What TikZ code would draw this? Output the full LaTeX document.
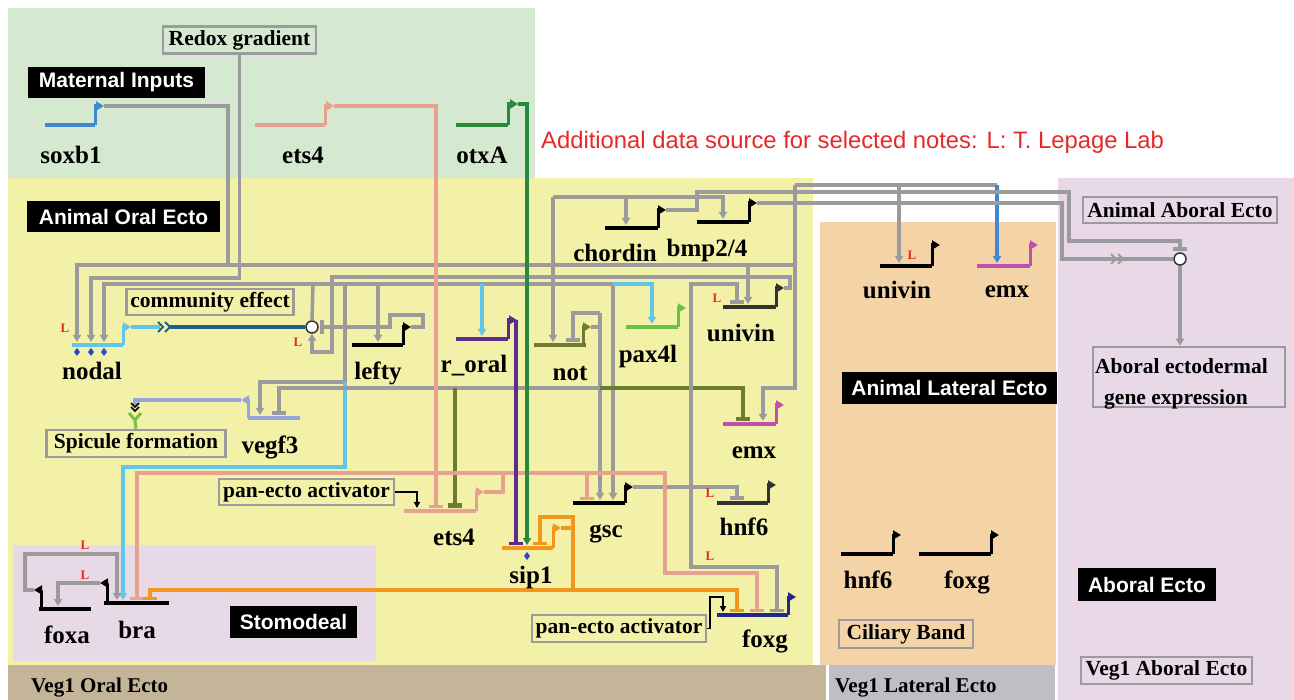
\documentclass[tikz,border=0pt]{standalone}
\usepackage{fontspec}
\setmainfont{Liberation Serif}
\setsansfont{Liberation Sans}
\usetikzlibrary{arrows.meta}
\definecolor{bgGreen}{RGB}{213,232,208}
\definecolor{bgYellow}{RGB}{243,240,168}
\definecolor{bgPink}{RGB}{232,217,230}
\definecolor{bgBrown}{RGB}{197,181,152}
\definecolor{bgOrange}{RGB}{244,211,167}
\definecolor{bgGrey}{RGB}{190,190,196}
\definecolor{bgLilac}{RGB}{233,217,232}
\definecolor{gry}{RGB}{155,155,158}
\definecolor{nodalC}{RGB}{96,198,234}
\definecolor{soxC}{RGB}{64,136,212}
\definecolor{etsC}{RGB}{232,160,145}
\definecolor{otxC}{RGB}{40,136,60}
\definecolor{rorC}{RGB}{92,44,140}
\definecolor{notC}{RGB}{110,124,50}
\definecolor{paxC}{RGB}{108,192,72}
\definecolor{emxC}{RGB}{190,80,176}
\definecolor{vegC}{RGB}{150,164,216}
\definecolor{sipC}{RGB}{242,150,30}
\definecolor{foxgC}{RGB}{32,40,138}
\definecolor{tealC}{RGB}{30,96,136}
\definecolor{redL}{RGB}{232,40,40}
\definecolor{darkG}{RGB}{50,50,50}
\definecolor{spicG}{RGB}{120,192,70}
\definecolor{diamC}{RGB}{50,70,200}
\tikzset{
  gl/.style={line width=4pt},
  pr/.style={line width=3pt,-{Triangle[length=8pt,width=9pt]}},
  cn/.style={line width=3.5pt,draw=gry},
  cl/.style={line width=3.2pt},
  ac/.style={-{Triangle[length=7pt,width=8pt]}},
  rp/.style={-{Bar[width=14pt]}},
  glab/.style={font=\bfseries\fontsize{25}{28}\selectfont,inner sep=0pt,anchor=base},
  blab/.style={draw=gry,line width=2.5pt,font=\bfseries\fontsize{21.5}{24}\selectfont,inner sep=0pt},
  klab/.style={fill=black,text=white,font=\sffamily\bfseries\fontsize{21}{24}\selectfont,inner sep=0pt},
  lmark/.style={text=redL,font=\bfseries\fontsize{13}{14}\selectfont,inner sep=0pt},
  pan/.style={line width=1.6pt,-{Triangle[length=6pt,width=6pt]}}
}
\newcommand{\chevR}[3]{\draw[#3,line width=2pt] (#1-5,#2-5)--(#1,#2)--(#1-5,#2+5) (#1+2,#2-5)--(#1+7,#2)--(#1+2,#2+5);}
\newcommand{\diam}[2]{\fill[diamC] (#1,#2-4)--(#1+3,#2)--(#1,#2+4)--(#1-3,#2)--cycle;}
\begin{document}
\begin{tikzpicture}[x=1pt,y=-1pt]
\useasboundingbox (0,0) rectangle (1294,700);
\fill[white] (0,0) rectangle (1294,700);
% regions
\fill[bgGreen] (8,8) rectangle (535,178);
\fill[bgYellow] (8,178) rectangle (813,665);
\fill[bgPink] (13,545) rectangle (376,661);
\fill[bgBrown] (8,665) rectangle (826,700);
\fill[bgOrange] (820,222) rectangle (1056,665);
\fill[bgGrey] (829,665) rectangle (1055,700);
\fill[bgLilac] (1058,178) rectangle (1294,700);

% labels (boxes)
\node[klab,minimum width=177pt,minimum height=31pt] (mat) at (116.5,82.5) {Maternal Inputs};
\node[klab,minimum width=193pt,minimum height=31pt] (aoe) at (123.5,216.5) {Animal Oral Ecto};
\node[klab,minimum width=127pt,minimum height=32pt] (sto) at (293.5,622) {Stomodeal};
\node[klab,minimum width=215pt,minimum height=32pt] (ale) at (949.5,388) {Animal Lateral Ecto};
\node[klab,minimum width=138pt,minimum height=33pt] (abe) at (1147,584.5) {Aboral Ecto};

\node[blab,minimum width=153pt,minimum height=27pt] (redox) at (239.5,40) {Redox gradient};
\node[blab,minimum width=167pt,minimum height=26pt] (comm) at (210,302) {community effect};
\node[blab,minimum width=179pt,minimum height=27pt] (spic) at (136,443.5) {Spicule formation};
\node[blab,minimum width=175pt,minimum height=26pt] (pan1) at (306.5,492) {pan-ecto activator};
\node[blab,minimum width=174pt,minimum height=27pt] (pan2) at (619,628.5) {pan-ecto activator};
\node[blab,minimum width=194pt,minimum height=26pt] (aab) at (1180,210) {Animal Aboral Ecto};
\node[blab,minimum width=192pt,minimum height=60pt] (aex) at (1189,377) {};
\node[blab,minimum width=134pt,minimum height=28pt] (cil) at (906,634) {Ciliary Band};
\node[blab,minimum width=171pt,minimum height=27pt] (v1a) at (1166.5,670.5) {Veg1 Aboral Ecto};
\node[anchor=base west,font=\bfseries\fontsize{21.5}{24}\selectfont,inner sep=0pt] (aex1) at (1095,374) {Aboral ectodermal};
\node[anchor=base west,font=\bfseries\fontsize{21.5}{24}\selectfont,inner sep=0pt] (aex2) at (1104,405) {gene expression};
\node[anchor=base west,font=\bfseries\fontsize{21}{24}\selectfont,inner sep=0pt] (v1o) at (31,692) {Veg1 Oral Ecto};
\node[anchor=base west,font=\bfseries\fontsize{21}{24}\selectfont,inner sep=0pt] (v1l) at (835,692) {Veg1 Lateral Ecto};
\node[anchor=west,text=redL,font=\sffamily\fontsize{23.8}{26}\selectfont,inner sep=0pt] (note) at (541,142) {Additional data source for selected notes: L: T. Lepage Lab};

% junction circles
\node[circle,draw=darkG,fill=white,line width=1.5pt,minimum size=12pt,inner sep=0pt] (ce) at (312,327) {};
\node[circle,draw=darkG,fill=white,line width=1.5pt,minimum size=12pt,inner sep=0pt] (abc) at (1180,259) {};

% ---------- connectors ----------
% soxb1 output
\draw[cn,ac] (104,106) -- (228,106) -- (228,265) -- (77,265) -- (77,342);
\draw[cn] (228,265) -- (795,265);
\draw[cn,ac] (795,185) -- (795,388) -- (763,388) -- (763,421);
\draw[cn] (795,185) -- (997,185);
\draw[cn,ac] (899,185) -- (899,263);
\draw[cn,draw=soxC,ac] (997,185) -- (997,263);
\draw[cn,ac] (748,265) -- (748,304);
% redox
\draw[cn,ac] (redox.south) |- (91,278) -- (91,342);
% nodal signal distribution
\draw[cn,ac] (613,284) -- (104,284) -- (104,342);
\draw[cn,ac] (613,284) -- (613,500);
\draw[cn] (313,284) -- (ce.north);
\draw[cn,ac] (378,284) -- (378,342);
\draw[cn,ac] (345,284) -- (345,382) -- (260,382) -- (260,415);
\draw[cn,draw=nodalC,ac] (345,382) -- (345,467) -- (123,467) -- (123,600);
\draw[cn,draw=nodalC,ac] (482,284) -- (482,336);
\draw[cn,draw=nodalC,ac] (613,284) -- (652,284) -- (652,324);
\draw[cn,ac] (553,197) -- (553,342);
\draw[cn,ac] (553,197) -- (723,197) -- (723,219);
\draw[cn,ac] (626,197) -- (626,225);
% univin output to circle
\draw[cn,ac] (784,288) -- (790,288) -- (790,277) -- (332,277) -- (332,352) -- (312,352) -- (ce.south);
% lefty output
\draw[cn,rp] (411,327) -- (423,327) -- (423,315) -- (390,315) -- (390,327) -- (320,327);
% nodal -> community effect
\draw[draw=nodalC,line width=3.5pt] (131,327) -- (160,327);
\chevR{163}{327}{tealC}
\draw[draw=tealC,line width=3.5pt] (170,327) -- (ce.west);
% not output
\draw[cn] (591,327) -- (600,327);
\draw[cn,ac] (600,313) -- (600,500);
\draw[cn,rp] (600,313) -- (573,313) -- (573,342);
\draw[cn,rp] (600,388) -- (279,388) -- (279,415);
\draw[cn,draw=notC,rp] (600,388) -- (743,388) -- (743,421);
\draw[cn,draw=notC,line width=4.5pt,rp] (455,388) -- (455,508);
% gsc output
\draw[cn,rp] (633,487) -- (737,487) -- (737,500);
\draw[cn,rp] (691,487) -- (691,567) -- (777,567) -- (777,612);
\draw[cn,rp] (691,487) -- (691,284) -- (737,284) -- (737,304);
% chordin output
\draw[cn,rp] (666,210) -- (697,210) -- (697,192) -- (1069,192) -- (1069,241) -- (1180,241) -- (1180,251);
% bmp2/4 output
\draw[cn] (757,203) -- (1062,203) -- (1062,259) -- (abc.west);
\chevR{1116}{259}{gry}
\draw[cn,ac] (abc.south) -- (abc.south |- aex.north);
% ets4 (oral) output
\draw[cl,draw=etsC] (484,492) -- (503,492) -- (503,473);
\draw[cl,draw=etsC,rp] (503,473) -- (137,473) -- (137,600);
\draw[cl,draw=etsC,rp] (503,473) -- (665,473) -- (665,573) -- (757,573) -- (757,612);
\draw[cl,draw=etsC,rp] (587,473) -- (587,500);
% maternal ets4
\draw[cl,draw=etsC,rp] (334,106) -- (436,106) -- (436,508);
% otxA
\draw[cl,draw=otxC,ac] (518,104) -- (527,104) -- (527,545);
% r_oral
\draw[cl,draw=rorC,rp] (516,320) -- (516,545);
% sip1
\draw[cl,draw=sipC] (561,528) -- (573,528);
\draw[cl,draw=sipC,rp] (573,590) -- (573,517) -- (540,517) -- (540,545);
\draw[cl,draw=sipC,rp] (573,590) -- (150,590) -- (150,600);
\draw[cl,draw=sipC,rp] (573,590) -- (737,590) -- (737,612);
% pan-ecto activators
\draw[pan] (pan1.east) -- (417,492) -- (417,508);
\draw[pan] (pan2.east) -- (710,628.5) -- (710,597) -- (723,597) -- (723,612);
% foxa / bra loop
\draw[cn,ac] (100,583) -- (58,583) -- (58,606);
\draw[cn,ac] (34,590) -- (25,590) -- (25,554) -- (117,554) -- (117,600);
% vegf3 -> spicule
\draw[cl,draw=vegC] (241,400) -- (135,400) -- (135,405);
\draw[black,line width=1.6pt] (131,403)--(135,407)--(139,403) (131,407)--(135,411)--(139,407);
\draw[spicG,line width=3pt] (129,413)--(135,420)--(141,413) (135,420)--(spic.north);

% ---------- genes ----------
\draw[gl,soxC] (45,125) -- (95,125);  \draw[pr,soxC] (95,125) -- (95,106) -- (104,106);
\draw[gl,etsC] (255,125) -- (325,125); \draw[pr,etsC] (325,125) -- (325,106) -- (334,106);
\draw[gl,otxC] (456,125) -- (508,125); \draw[pr,otxC] (508,125) -- (508,104) -- (518,104);
\draw[gl,nodalC] (72,345) -- (123,345); \draw[pr,nodalC] (123,345) -- (123,327) -- (131,327);
\diam{77}{352}\diam{91}{352}\diam{104}{352}
\draw[gl,black] (352,345) -- (403,345); \draw[pr,black] (403,345) -- (403,327) -- (411,327);
\draw[gl,rorC] (456,339) -- (508,339); \draw[pr,rorC] (508,339) -- (508,320) -- (517,320);
\draw[gl,notC] (534,345) -- (586,345); \draw[pr,notC] (583,345) -- (583,327) -- (591,327);
\draw[gl,paxC] (626,327) -- (678,327); \draw[pr,paxC] (678,327) -- (678,308) -- (686,308);
\draw[gl,darkG] (723,307) -- (776,307); \draw[pr,darkG] (776,307) -- (776,288) -- (784,288);
\draw[gl,emxC] (723,424) -- (776,424); \draw[pr,emxC] (776,424) -- (776,405) -- (784,405);
\draw[gl,black] (605,228) -- (658,228); \draw[pr,black] (658,228) -- (658,210) -- (666,210);
\draw[gl,black] (697,222) -- (749,222); \draw[pr,black] (749,222) -- (749,203) -- (757,203);
\draw[gl,vegC] (248,418) -- (300,418); \draw[pr,vegC] (248,418) -- (248,400) -- (241,400);
\draw[gl,etsC] (404,511) -- (476,511); \draw[pr,etsC] (476,511) -- (476,492) -- (484,492);
\draw[gl,sipC] (502,548) -- (553,548); \draw[pr,sipC] (553,548) -- (553,528) -- (561,528);
\diam{527}{556}
\draw[gl,black] (573,503) -- (625,503); \draw[pr,black] (625,503) -- (625,487) -- (633,487);
\draw[gl,darkG] (717,503) -- (768,503); \draw[pr,darkG] (768,503) -- (768,485) -- (776,485);
\draw[gl,foxgC] (717,615) -- (788,615); \draw[pr,foxgC] (788,615) -- (788,597) -- (796,597);
\draw[gl,black] (104,603) -- (169,603); \draw[pr,black] (107,603) -- (107,583) -- (100,583);
\draw[gl,black] (39,609) -- (91,609); \draw[pr,black] (41,609) -- (41,590) -- (34,590);
\draw[gl,black] (880,266) -- (932,266); \draw[pr,black] (932,266) -- (932,245) -- (940,245);
\draw[gl,emxC] (977,266) -- (1030,266); \draw[pr,emxC] (1030,266) -- (1030,245) -- (1038,245);
\draw[gl,black] (841,554) -- (893,554); \draw[pr,black] (893,554) -- (893,535) -- (901,535);
\draw[gl,black] (919,554) -- (991,554); \draw[pr,black] (991,554) -- (991,535) -- (999,535);

% ---------- gene labels ----------
\node[glab] (l_soxb1) at (71,164) {soxb1};
\node[glab] (l_ets4m) at (303,164) {ets4};
\node[glab] (l_otxa) at (482,164) {otxA};
\node[glab] (l_nodal) at (92,380) {nodal};
\node[glab] (l_lefty) at (378,380) {lefty};
\node[glab] (l_roral) at (474,373) {r\_oral};
\node[glab] (l_not) at (570,381) {not};
\node[glab] (l_pax) at (648,363) {pax4l};
\node[glab] (l_univo) at (741,342) {univin};
\node[glab] (l_emxo) at (754,459) {emx};
\node[glab] (l_chd) at (615,262) {chordin};
\node[glab] (l_bmp) at (707,257) {bmp2/4};
\node[glab] (l_veg) at (270,454) {vegf3};
\node[glab] (l_ets4o) at (454,545) {ets4};
\node[glab] (l_sip) at (531,583) {sip1};
\node[glab] (l_gsc) at (606,537) {gsc};
\node[glab] (l_hnfo) at (744,536) {hnf6};
\node[glab] (l_foxgo) at (765,647) {foxg};
\node[glab] (l_foxa) at (67,643) {foxa};
\node[glab] (l_bra) at (137,638) {bra};
\node[glab] (l_univl) at (897,299) {univin};
\node[glab] (l_emxl) at (1007,298) {emx};
\node[glab] (l_hnfl) at (868,588) {hnf6};
\node[glab] (l_foxgl) at (967,588) {foxg};

% red L marks
\node[lmark] (L1) at (65,328) {L};
\node[lmark] (L2) at (298,342) {L};
\node[lmark] (L3) at (717,298) {L};
\node[lmark] (L4) at (710,493) {L};
\node[lmark] (L5) at (710,556) {L};
\node[lmark] (L6) at (85,545) {L};
\node[lmark] (L7) at (85,575) {L};
\node[lmark] (L8) at (912,255) {L};
\end{tikzpicture}
\end{document}
